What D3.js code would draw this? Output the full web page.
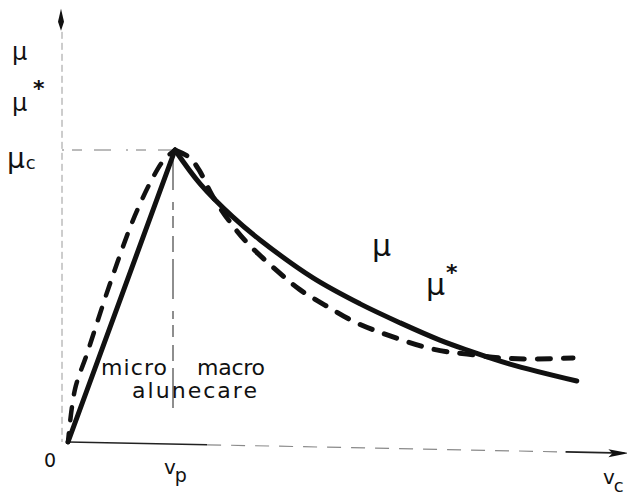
<!DOCTYPE html>
<html>
<head>
<meta charset="utf-8">
<script src="https://cdn.jsdelivr.net/npm/d3@7"></script>
<style>
  html, body { margin: 0; padding: 0; background: #fff; }
  svg { display: block; }
  text { font-family: "DejaVu Sans", "Noto Sans", sans-serif; fill: #111; }
</style>
</head>
<body>
<svg id="chart" width="627" height="495"></svg>
<script>
// Friction coefficient versus sliding velocity, normalised so that v_p = 2 and μ_c = 1.
// μ: solid curve; μ*: dashed curve.
const muRise = [[0, 0], [2, 1]];
const muDecay = [[2, 1], [2.47, 0.884], [3.08, 0.771], [3.59, 0.692], [4.58, 0.562], [5.46, 0.473],
                 [6.21, 0.408], [6.95, 0.349], [7.46, 0.315], [8.26, 0.267], [9.51, 0.209]];
const muStarRise = [[0, 0], [0.13, 0.18], [0.36, 0.305], [0.79, 0.545], [1.25, 0.775],
                    [1.63, 0.92], [1.81, 0.97], [2, 1]];
const muStarDecay = [[2, 1], [2.28, 0.973], [2.47, 0.925], [2.69, 0.846], [3.03, 0.753],
                     [3.35, 0.682], [3.91, 0.586], [4.34, 0.521], [4.8, 0.469], [5.36, 0.411],
                     [5.98, 0.366], [6.82, 0.318], [7.46, 0.301], [8.08, 0.288], [8.69, 0.284],
                     [9.44, 0.288]];
const vPeak = 2;
const muPeak = 1;
const xAxisMax = 10.4;
const yAxisMax = 1.48;
const xTickLabels = ["0", "v", "p"];      // origin, v + subscript p
const xAxisTitle = ["v", "c"];
const yAxisLabels = ["μ", "μ", "*"];
const yPeakLabel = ["μ", "c"];
const regionLabels = ["micro", "macro", "alunecare"];

const svg = d3.select("#chart");
const x = d3.scaleLinear().domain([0, 10]).range([68, 603]);
const y = d3.scaleLinear().domain([0, 1]).range([442, 150]);

// the horizontal axis drifts slightly downward to the right
const axisDrift = 0.02;
const xAxisY = v => y(0) + (x(v) - x(0)) * axisDrift;

// ----- axes -----
// vertical axis: faint dotted line with a filled arrow head
svg.append("line")
  .attr("x1", x(0) - 6).attr("x2", x(0) - 6)
  .attr("y1", y(yAxisMax) + 22).attr("y2", y(0))
  .attr("stroke", "#9a9a9a").attr("stroke-width", 1)
  .attr("stroke-dasharray", "7 4");
const yTop = y(yAxisMax);
svg.append("path")
  .attr("d", `M${x(0) - 7},${yTop - 1} L${x(0) - 10},${yTop + 12} L${x(0) - 7},${yTop + 21} L${x(0) - 4},${yTop + 12} Z`)
  .attr("fill", "#111");

// horizontal axis: solid near the origin, faint dashes, dark again before the arrow
svg.append("line")
  .attr("x1", x(0)).attr("y1", xAxisY(0))
  .attr("x2", x(2.6)).attr("y2", xAxisY(2.6))
  .attr("stroke", "#222").attr("stroke-width", 1.6);
svg.append("line")
  .attr("x1", x(2.6)).attr("y1", xAxisY(2.6))
  .attr("x2", x(9.3)).attr("y2", xAxisY(9.3))
  .attr("stroke", "#8a8a8a").attr("stroke-width", 1.2)
  .attr("stroke-dasharray", "14 10");
svg.append("line")
  .attr("x1", x(9.3)).attr("y1", xAxisY(9.3))
  .attr("x2", x(xAxisMax)).attr("y2", xAxisY(xAxisMax))
  .attr("stroke", "#222").attr("stroke-width", 1.8);
const xe = x(xAxisMax) + 4, ye = xAxisY(xAxisMax);
svg.append("path")
  .attr("d", `M${xe},${ye} L${xe - 20},${ye - 4} L${xe - 16},${ye} L${xe - 20},${ye + 4} Z`)
  .attr("fill", "#111");

// ----- guide lines to the peak -----
svg.append("line")
  .attr("x1", x(0) - 6).attr("x2", x(vPeak))
  .attr("y1", y(muPeak)).attr("y2", y(muPeak))
  .attr("stroke", "#777").attr("stroke-width", 1)
  .attr("stroke-dasharray", "2 8 10 12 17 15");
svg.append("line")
  .attr("x1", x(vPeak) - 2).attr("x2", x(vPeak) - 2)
  .attr("y1", y(muPeak)).attr("y2", y(0.1))
  .attr("stroke", "#444").attr("stroke-width", 1.2)
  .attr("stroke-dasharray", "40 12 8 6 12 8 16 7");

// ----- curves -----
const line = d3.line().x(d => x(d[0])).y(d => y(d[1]));
const smooth = d3.line().x(d => x(d[0])).y(d => y(d[1])).curve(d3.curveCatmullRom.alpha(0.5));

const dash = "13 13";
svg.append("path").datum(muStarRise)
  .attr("d", smooth).attr("fill", "none")
  .attr("stroke", "#111").attr("stroke-width", 4.5)
  .attr("stroke-linecap", "round").attr("stroke-dasharray", dash)
  .attr("stroke-dashoffset", 4);
svg.append("path").datum(muStarDecay)
  .attr("d", smooth).attr("fill", "none")
  .attr("stroke", "#111").attr("stroke-width", 5)
  .attr("stroke-linecap", "round").attr("stroke-dasharray", dash);

svg.append("path").datum(muRise)
  .attr("d", line).attr("fill", "none")
  .attr("stroke", "#111").attr("stroke-width", 5)
  .attr("stroke-linecap", "round");
svg.append("path").datum(muDecay)
  .attr("d", smooth).attr("fill", "none")
  .attr("stroke", "#111").attr("stroke-width", 5)
  .attr("stroke-linecap", "round");

// ----- labels -----
// vertical axis labels
svg.append("text").attr("x", 12).attr("y", 60).attr("font-size", 24).text(yAxisLabels[0]);
svg.append("text").attr("x", 12).attr("y", 111).attr("font-size", 24).text(yAxisLabels[1]);
svg.append("text").attr("x", 33).attr("y", 96).attr("font-size", 22).attr("font-weight", "bold").text(yAxisLabels[2]);
const pk = svg.append("text").attr("x", 7).attr("y", y(muPeak) + 18).attr("font-size", 28);
pk.append("tspan").text(yPeakLabel[0]);
pk.append("tspan").attr("font-size", 18).attr("dx", 1).attr("dy", 1).text(yPeakLabel[1]);

// horizontal axis labels
svg.append("text").attr("x", x(0) - 24).attr("y", 467).attr("font-size", 19).text(xTickLabels[0]);
const vp = svg.append("text").attr("x", x(vPeak) - 11).attr("y", 474).attr("font-size", 20);
vp.append("tspan").text(xTickLabels[1]);
vp.append("tspan").attr("dx", -1).attr("dy", 8).attr("font-size", 19).text(xTickLabels[2]);
const va = svg.append("text").attr("x", 603).attr("y", 484).attr("font-size", 20);
va.append("tspan").text(xAxisTitle[0]);
va.append("tspan").attr("dx", -1).attr("dy", 8).attr("font-size", 18).text(xAxisTitle[1]);

// curve labels
svg.append("text").attr("x", 372).attr("y", 256).attr("font-size", 30).text("μ");
svg.append("text").attr("x", 426).attr("y", 295).attr("font-size", 30).text("μ");
svg.append("text").attr("x", 446).attr("y", 280).attr("font-size", 22).attr("font-weight", "bold").text("*");

// regime labels
svg.append("text").attr("x", 101).attr("y", 375).attr("font-size", 22)
  .attr("textLength", 66).text(regionLabels[0]);
svg.append("text").attr("x", 197).attr("y", 375).attr("font-size", 22)
  .attr("textLength", 68).text(regionLabels[1]);
svg.append("text").attr("x", 132).attr("y", 398).attr("font-size", 22)
  .attr("textLength", 125).text(regionLabels[2]);
</script>
</body>
</html>
